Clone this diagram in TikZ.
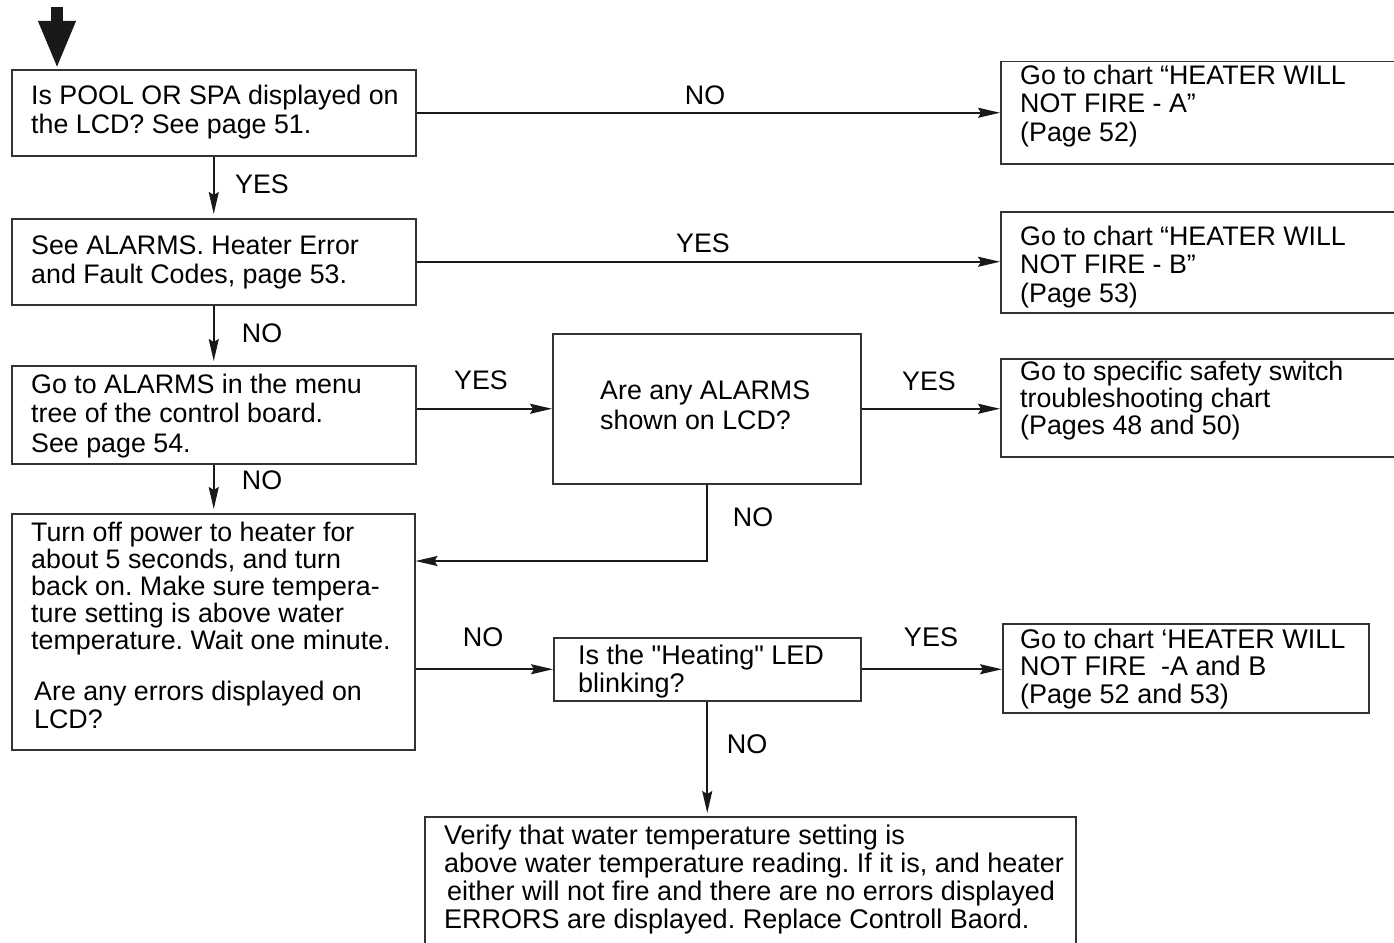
\documentclass[tikz,border=0pt]{standalone}
\usepackage{fontspec}
\setmainfont{Liberation Sans}
\newfontfamily\plainfont{Liberation Sans}
\frenchspacing
\usetikzlibrary{arrows.meta,calc}
\tikzset{
  box/.style={draw=black!80, line width=1.5pt, inner sep=0pt, anchor=north west},
  txt/.style={inner sep=0pt, anchor=base west, align=left, font=\fontsize{26.8}{29}\selectfont},
  ntxt/.style={inner sep=0pt, anchor=base west, align=left, font=\fontsize{27}{27.5}\selectfont},
  lbl/.style={inner sep=0pt, anchor=base, font=\fontsize{26.8}{29}\selectfont},
  nlbl/.style={inner sep=0pt, anchor=base, font=\fontsize{27}{29}\selectfont},
  arr/.style={draw=black!90, line width=1.8pt, -{Stealth[length=22pt,width=10pt,inset=3pt]}},
}
\begin{document}
\begin{tikzpicture}[x=1pt,y=1pt]
\useasboundingbox (0,0) rectangle (1394,-942);
\clip (0,0) rectangle (1394,-942);
% boxes
\node[box, minimum width=404pt, minimum height=86pt] (q1) at (11,-69) {};
\node[box, minimum width=404pt, minimum height=86pt] (q2) at (11,-218) {};
\node[box, minimum width=404pt, minimum height=98pt] (q3) at (11,-365) {};
\node[box, minimum width=403pt, minimum height=236pt] (q4) at (11,-513) {};
\node[box, minimum width=308pt, minimum height=150pt] (q5) at (552,-333) {};
\node[box, minimum width=307pt, minimum height=63pt] (q6) at (553,-637) {};
\node[box, minimum width=420pt, minimum height=102pt] (rA) at (1000,-61) {};
\node[box, minimum width=420pt, minimum height=101pt] (rB) at (1000,-211) {};
\node[box, minimum width=420pt, minimum height=98pt] (rC) at (1000,-358) {};
\node[box, minimum width=366pt, minimum height=89pt] (rD) at (1002,-623) {};
\node[box, minimum width=651pt, minimum height=160pt] (r10) at (424,-816) {};
% texts (anchor = baseline of last line)
\node[txt, font=\fontsize{26.8}{28.5}\selectfont] (q1t) at (31,-133) {Is POOL OR SPA displayed on\\the LCD? See page 51.};
\node[txt, font=\fontsize{26.8}{28.5}\selectfont] (q2t) at (31,-283) {See ALARMS. Heater Error\\and Fault Codes, page 53.};
\node[txt, font=\fontsize{26.8}{29.5}\selectfont] (q3t) at (31,-452) {Go to ALARMS in the menu\\tree of the control board.\\See page 54.};
\node[txt, font=\fontsize{26.8}{26.9}\selectfont] (q4t) at (31,-649) {Turn off power to heater for\\about 5 seconds, and turn\\back on. Make sure tempera-\\ture setting is above water\\temperature. Wait one minute.};
\node[txt, font=\fontsize{26.8}{28}\selectfont] (q4u) at (34,-728) {Are any errors displayed on\\LCD?};
\node[txt, font=\fontsize{26.8}{30}\selectfont] (q5t) at (600,-429) {Are any ALARMS\\shown on LCD?};
\node[ntxt, font=\plainfont\fontsize{27}{27.5}\selectfont] (q6t) at (578,-692) {Is the "Heating" LED\\blinking?};
\node[txt, font=\fontsize{26.8}{28.5}\selectfont] (rAt) at (1020,-141) {Go to chart “HEATER WILL\\NOT FIRE - A”\\(Page 52)};
\node[txt, font=\fontsize{26.8}{28.5}\selectfont] (rBt) at (1020,-302) {Go to chart “HEATER WILL\\NOT FIRE - B”\\(Page 53)};
\node[txt, font=\fontsize{26.8}{27}\selectfont] (rCt) at (1020,-434) {Go to specific safety switch\\troubleshooting chart\\(Pages 48 and 50)};
\node[ntxt] (rDt) at (1020,-703) {Go to chart ‘HEATER WILL\\NOT FIRE\ \ -A and B\\(Page 52 and 53)};
\node[ntxt, font=\fontsize{27}{28}\selectfont] (r10t) at (444,-928) {Verify that water temperature setting is\\above water temperature reading. If it is, and heater\\\hspace*{3pt}either will not fire and there are no errors displayed\\ERRORS are displayed. Replace Controll Baord.};
% labels
\node[lbl] (l1) at (705,-104) {NO};
\node[lbl] (l2) at (262,-193) {YES};
\node[lbl] (l3) at (703,-252) {YES};
\node[lbl] (l4) at (262,-342) {NO};
\node[lbl] (l5) at (481,-389) {YES};
\node[lbl] (l6) at (929,-390) {YES};
\node[lbl] (l7) at (262,-489) {NO};
\node[lbl] (l8) at (753,-526) {NO};
\node[nlbl] (l9) at (483,-646) {NO};
\node[nlbl] (l10) at (931,-646) {YES};
\node[nlbl] (l11) at (747,-753) {NO};
% start arrow
\coordinate (s0) at (57,-7);
\draw[line width=12pt, black!90, -{Triangle[length=48pt,width=34pt]}] (s0) -- (s0 |- q1.north);
% connectors
\draw[arr] (q1.east) -- (q1.east -| rA.west);
\draw[arr, shorten >=4pt] (q1.south) -- (q2.north);
\draw[arr] (q2.east) -- (q2.east -| rB.west);
\draw[arr, shorten >=4pt] (q2.south) -- (q3.north);
\draw[arr] (q5.west -| q3.east) -- (q5.west);
\draw[arr] (q5.east) -- (q5.east -| rC.west);
\draw[arr, shorten >=4pt] (q3.south) -- (q3.south |- q4.north);
\draw[arr] (q5.south) |- ($(q4.north east)+(0,-48)$);
\draw[arr] (q6.west -| q4.east) -- (q6.west);
\draw[arr] (q6.east) -- (q6.east -| rD.west);
\draw[arr, shorten >=3pt] (q6.south) -- (q6.south |- r10.north);
\end{tikzpicture}
\end{document}
